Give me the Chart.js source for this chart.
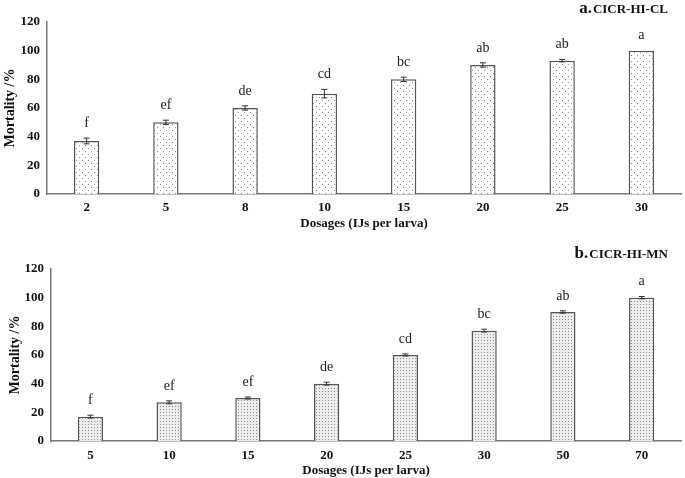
<!DOCTYPE html>
<html>
<head>
<meta charset="utf-8">
<script src="https://cdn.jsdelivr.net/npm/chart.js@4"></script>
<style>
  body { margin: 0; background: #fff; }
  .box { position: absolute; left: 0; width: 685px; }
</style>
</head>
<body>
<div class="box" style="top:0;height:240px"><canvas id="chartA"></canvas></div>
<div class="box" style="top:240px;height:238px"><canvas id="chartB"></canvas></div>
<script>
// panel a: CICR-HI-CL
const dosesA = ["2", "5", "8", "10", "15", "20", "25", "30"];
const mortA = [37, 50, 60, 70, 80, 90, 93, 100];
const errA = [2, 1.5, 1.5, 3, 1.5, 1.5, 0.8, 0];
const lettersA = ["f", "ef", "de", "cd", "bc", "ab", "ab", "a"];

// panel b: CICR-HI-MN
const dosesB = ["5", "10", "15", "20", "25", "30", "50", "70"];
const mortB = [17, 27, 30, 40, 60, 77, 90, 100];
const errB = [1, 1, 0.7, 1, 0.7, 1, 0.8, 0.8];
const lettersB = ["f", "ef", "ef", "de", "cd", "bc", "ab", "a"];

const yTicks = [0, 20, 40, 60, 80, 100, 120];

const SERIF = "'Liberation Serif', 'Times New Roman', serif";

// dotted fill patterns
function sparseDots() {
  const c = document.createElement("canvas");
  c.width = 6; c.height = 6;
  const g = c.getContext("2d");
  g.fillStyle = "#fff"; g.fillRect(0, 0, 6, 6);
  g.fillStyle = "#8a8a8a";
  g.fillRect(1, 1, 1, 1);
  g.fillRect(4, 4, 1, 1);
  return g.createPattern(c, "repeat");
}
function denseDots() {
  const c = document.createElement("canvas");
  c.width = 3; c.height = 3;
  const g = c.getContext("2d");
  g.fillStyle = "#ededed"; g.fillRect(0, 0, 3, 3);
  g.fillStyle = "#8c8c8c";
  g.fillRect(1, 1, 1, 1);
  return g.createPattern(c, "repeat");
}

// error bars, letters and panel title
const extras = {
  id: "extras",
  afterDatasetsDraw(chart, args, opts) {
    const ctx = chart.ctx;
    const x = chart.scales.x, y = chart.scales.y;
    const vals = chart.data.datasets[0].data;
    ctx.save();
    ctx.strokeStyle = "#333";
    ctx.lineWidth = 1;
    vals.forEach((v, i) => {
      const cx = x.getPixelForValue(i);
      const e = opts.err[i];
      const top = y.getPixelForValue(v + e), bot = y.getPixelForValue(v - e);
      if (e > 0) {
        ctx.beginPath();
        ctx.moveTo(cx, top); ctx.lineTo(cx, bot);
        ctx.moveTo(cx - 3, top); ctx.lineTo(cx + 3, top);
        ctx.moveTo(cx - 3, bot); ctx.lineTo(cx + 3, bot);
        ctx.stroke();
      }
      ctx.fillStyle = "#222";
      ctx.font = "14px " + SERIF;
      ctx.textAlign = "center";
      ctx.textBaseline = "bottom";
      ctx.fillText(opts.letters[i], cx, top - 8);
    });
    // title
    ctx.fillStyle = "#111";
    ctx.textBaseline = "alphabetic";
    ctx.textAlign = "right";
    ctx.font = "bold 13px " + SERIF;
    const rest = opts.name;
    const w = ctx.measureText(rest).width;
    ctx.fillText(rest, opts.titleX, opts.titleY);
    ctx.font = "bold 17px " + SERIF;
    ctx.fillText(opts.tag, opts.titleX - w - 1, opts.titleY);
    ctx.restore();
  }
};

function makeChart(id, labels, values, err, letters, fill, p) {
  return new Chart(document.getElementById(id), {
    type: "bar",
    data: {
      labels: labels,
      datasets: [{
        data: values,
        backgroundColor: fill,
        borderColor: "#555",
        borderWidth: 1.5,
        borderSkipped: "bottom",
        barPercentage: 0.32,
        categoryPercentage: 1
      }]
    },
    options: {
      responsive: true,
      maintainAspectRatio: false,
      animation: false,
      layout: { padding: { top: p.top, right: 4, bottom: p.bottom, left: 0 } },
      plugins: {
        legend: { display: false },
        tooltip: { enabled: false },
        extras: { err: err, letters: letters, tag: p.tag, name: p.name, titleX: 668, titleY: p.titleY }
      },
      scales: {
        x: {
          afterFit: (s) => { s.height = p.xH; },
          grid: { display: false, drawTicks: false },
          border: { display: true, color: "#777", width: 1.5 },
          ticks: { color: "#111", font: { family: SERIF, size: 13, weight: "bold" }, padding: p.xPad },
          title: { display: true, text: "Dosages (IJs per larva)", color: "#111",
                   font: { family: SERIF, size: 13, weight: "bold" }, padding: { top: 0, bottom: 0 } }
        },
        y: {
          min: 0, max: 120,
          afterBuildTicks: (s) => { s.ticks = yTicks.map(v => ({ value: v })); },
          afterFit: (s) => { s.width = p.leftW; },
          grid: { display: false, drawTicks: false },
          border: { display: true, color: "#777", width: 1.5 },
          ticks: { color: "#111", font: { family: SERIF, size: 13, weight: "bold" }, padding: 7 },
          title: { display: true, text: "Mortality /%", color: "#111",
                   font: { family: SERIF, size: 14, weight: "bold" }, padding: { top: p.yTitlePad, bottom: 0 } }
        }
      }
    },
    plugins: [extras]
  });
}

makeChart("chartA", dosesA, mortA, errA, lettersA, sparseDots(),
  { tag: "a.", name: "CICR-HI-CL", leftW: 47, top: 22, bottom: 9, xH: 37, xPad: 6, titleY: 13, yTitlePad: 2 });
makeChart("chartB", dosesB, mortB, errB, lettersB, denseDots(),
  { tag: "b.", name: "CICR-HI-MN", leftW: 51, top: 29, bottom: 0, xH: 37, xPad: 7, titleY: 18, yTitlePad: 7 });
</script>
</body>
</html>
